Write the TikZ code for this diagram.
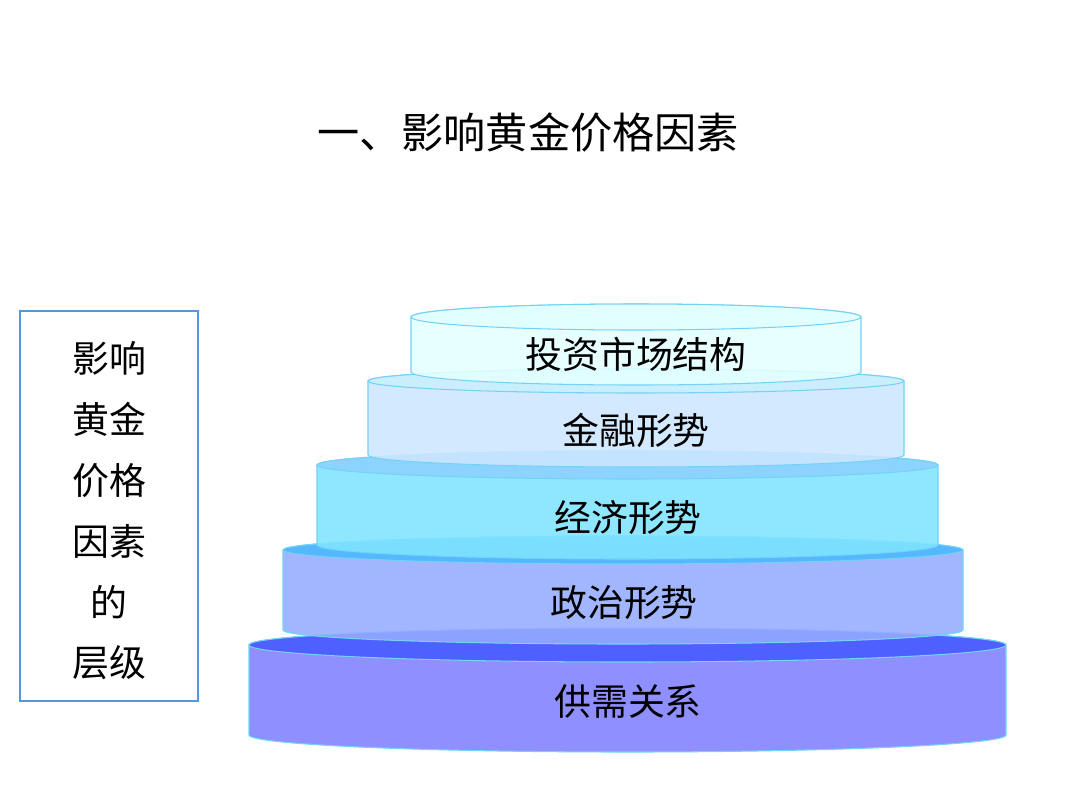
\documentclass[tikz,border=0pt]{standalone}
\usepackage{fontspec}
\setmainfont{Noto Sans CJK SC}
\begin{document}
\begin{tikzpicture}[x=0.02cm,y=-0.02cm,
  lbl/.style={font=\fontsize{21}{24}\selectfont, inner sep=0pt},
  edge/.style={draw=cyan!55!white, line width=0.6pt}]
\useasboundingbox (0,0) rectangle (1077,808);
\fill[white] (0,0) rectangle (1077,808);
\newcommand{\cyl}[7]{% x1 x2 ytop ybot ry fill topfill
  \pgfmathsetmacro{\rx}{(#2-#1)/2}
  \filldraw[edge, fill=#6, fill opacity=0.88] (#1,#3) -- (#1,#4) arc[start angle=180,end angle=0,x radius=\rx,y radius=#5] -- (#2,#3) arc[start angle=0,end angle=-180,x radius=\rx,y radius=#5] -- cycle;
  \filldraw[edge, fill=#7, fill opacity=0.88] ({(#1+#2)/2},#3) ellipse[x radius=\rx,y radius=#5];
}
\definecolor{c1}{RGB}{128,128,255}\definecolor{t1}{RGB}{70,90,255}
\definecolor{c2}{RGB}{150,172,255}\definecolor{t2}{RGB}{75,185,255}
\definecolor{c3}{RGB}{128,228,255}\definecolor{t3}{RGB}{140,210,255}
\definecolor{c4}{RGB}{204,230,255}\definecolor{t4}{RGB}{200,240,255}
\definecolor{c5}{RGB}{228,255,255}\definecolor{t5}{RGB}{225,255,255}
\cyl{249}{1006}{645}{735}{17}{c1}{t1}
\cyl{283}{963}{550}{630}{14}{c2}{t2}
\cyl{317}{938}{465}{545}{14}{c3}{t3}
\cyl{368}{904}{381}{455}{12}{c4}{t4}
\cyl{411}{861}{317}{372}{13}{c5}{t5}
\node[lbl] (l5) at (636,354) {投资市场结构};
\node[lbl] (l4) at (636,430) {金融形势};
\node[lbl] (l3) at (628,518) {经济形势};
\node[lbl] (l2) at (624,603) {政治形势};
\node[lbl] (l1) at (628,702) {供需关系};
\node[font=\fontsize{24}{28}\selectfont, inner sep=0pt] (title) at (528,132) {一、影响黄金价格因素};
\draw[cyan!60!blue!70!white, line width=0.6pt] (20,311) rectangle (198,701);
\node[lbl, align=center, font=\fontsize{21}{34.6}\selectfont] (side) at (109,511) {影响\\黄金\\价格\\因素\\的\\层级};
\end{tikzpicture}
\end{document}
